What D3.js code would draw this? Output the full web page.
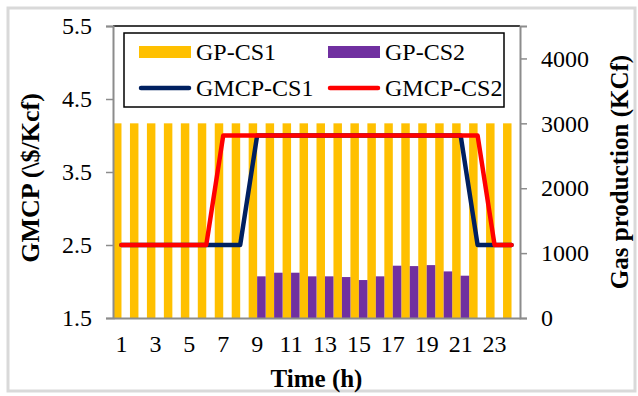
<!DOCTYPE html>
<html>
<head>
<meta charset="utf-8">
<script src="https://cdn.jsdelivr.net/npm/d3@7"></script>
<style>
  body { margin: 0; background: #fff; }
  text { font-family: "Liberation Serif", "Times New Roman", serif; fill: #000; }
</style>
</head>
<body>
<div id="chart"></div>
<script>
// hours and series
const hours = d3.range(1, 25);
const gpCs1 = [3000, 3000, 3000, 3000, 3000, 3000, 3000, 3000, 3000, 3000, 3000, 3000,
               3000, 3000, 3000, 3000, 3000, 3000, 3000, 3000, 3000, 3000, 3000, 3000];
const gpCs2 = [0, 0, 0, 0, 0, 0, 0, 0, 642, 698, 698, 642,
               642, 631, 585, 642, 806, 800, 815, 718, 652, 0, 0, 0];
const gmcpCs1 = [2.5, 2.5, 2.5, 2.5, 2.5, 2.5, 2.5, 2.5, 4.0, 4.0, 4.0, 4.0,
                 4.0, 4.0, 4.0, 4.0, 4.0, 4.0, 4.0, 4.0, 4.0, 2.5, 2.5, 2.5];
const gmcpCs2 = [2.5, 2.5, 2.5, 2.5, 2.5, 2.5, 4.0, 4.0, 4.0, 4.0, 4.0, 4.0,
                 4.0, 4.0, 4.0, 4.0, 4.0, 4.0, 4.0, 4.0, 4.0, 4.0, 2.5, 2.5];
const leftTicks = [1.5, 2.5, 3.5, 4.5, 5.5];
const rightTicks = [0, 1000, 2000, 3000, 4000];
const xTickLabels = [1, 3, 5, 7, 9, 11, 13, 15, 17, 19, 21, 23];

const width = 638, height = 396;
const plotLeft = 113, plotRight = 520, plotTop = 26, plotBottom = 318;
const axisColor = '#8c8c8c';
const fontSize = 24;
const titleSize = 25;

var svg = d3.select('#chart')
    .append('svg')
    .attr('width', width)
    .attr('height', height);

svg.append('rect')
    .attr('x', 8).attr('y', 8)
    .attr('width', 627).attr('height', 383)
    .style('fill', '#fff')
    .style('stroke', '#d9d9d9')
    .style('stroke-width', 3);

var x = d3.scaleBand()
    .domain(hours)
    .range([plotLeft, plotRight])
    .padding(0);
var half = x.bandwidth() / 2;
var yLeft = d3.scaleLinear().domain([1.5, 5.5]).range([plotBottom, plotTop]);
var yRight = d3.scaleLinear().domain([0, 4500]).range([plotBottom, plotTop]);

// bars
var bars = svg.append('g');
bars.selectAll('.cs1')
    .data(hours)
    .enter()
    .append('rect')
    .attr('x', h => x(h))
    .attr('width', half)
    .attr('y', (h, i) => yRight(gpCs1[i]))
    .attr('height', (h, i) => plotBottom - yRight(gpCs1[i]))
    .style('fill', '#ffc000');
bars.selectAll('.cs2')
    .data(hours.filter((h, i) => gpCs2[i] > 0))
    .enter()
    .append('rect')
    .attr('x', h => x(h) + half)
    .attr('width', half)
    .attr('y', h => yRight(gpCs2[h - 1]))
    .attr('height', h => plotBottom - yRight(gpCs2[h - 1]))
    .style('fill', '#7030a0');

// plot area top border
svg.append('line')
    .attr('x1', plotLeft).attr('x2', plotRight)
    .attr('y1', plotTop).attr('y2', plotTop)
    .style('stroke', '#000')
    .style('stroke-width', 1.5);

// lines
let line = d3.line()
    .x((d, i) => x(hours[i]) + half)
    .y(d => yLeft(d));
svg.append('path')
    .attr('d', line(gmcpCs1))
    .style('fill', 'none')
    .style('stroke', '#002060')
    .style('stroke-width', 4.5)
    .style('stroke-linecap', 'round')
    .style('stroke-linejoin', 'round');
svg.append('path')
    .attr('d', line(gmcpCs2))
    .style('fill', 'none')
    .style('stroke', '#ff0000')
    .style('stroke-width', 4.5)
    .style('stroke-linecap', 'round')
    .style('stroke-linejoin', 'round');

// axes
var leftAxis = svg.append('g')
    .attr('transform', `translate(${plotLeft},0)`)
    .call(d3.axisLeft(yLeft).tickValues(leftTicks).tickSize(7).tickPadding(14).tickFormat(d3.format('.1f')));
var rightAxis = svg.append('g')
    .attr('transform', `translate(${plotRight},0)`)
    .call(d3.axisRight(yRight).tickValues(rightTicks).tickSize(7).tickPadding(14).tickFormat(d => d));
var bottomAxis = svg.append('g')
    .attr('transform', `translate(0,${plotBottom})`)
    .call(d3.axisBottom(x).tickValues(xTickLabels).tickSize(0).tickPadding(17));
[leftAxis, rightAxis, bottomAxis].forEach(a => {
    a.select('.domain').style('stroke', axisColor).style('stroke-width', 2);
    a.selectAll('.tick line').style('stroke', axisColor).style('stroke-width', 1.5);
    a.selectAll('text')
        .style('font-family', '"Liberation Serif", serif')
        .style('font-size', fontSize + 'px')
        .style('fill', '#000');
});

// axis titles
svg.append('text')
    .attr('transform', `translate(39,178) rotate(-90)`)
    .attr('text-anchor', 'middle')
    .style('font-size', '26px')
    .style('font-weight', 'bold')
    .text('GMCP (\\$/Kcf)');
svg.append('text')
    .attr('transform', `translate(628,${(plotTop + plotBottom) / 2}) rotate(-90)`)
    .attr('text-anchor', 'middle')
    .style('font-size', titleSize + 'px')
    .style('font-weight', 'bold')
    .text('Gas production (KCf)');
svg.append('text')
    .attr('x', (plotLeft + plotRight) / 2)
    .attr('y', 387)
    .attr('text-anchor', 'middle')
    .style('font-size', titleSize + 'px')
    .style('font-weight', 'bold')
    .text('Time (h)');

// legend
var legend = svg.append('g');
legend.append('rect')
    .attr('x', 124).attr('y', 33)
    .attr('width', 380).attr('height', 74)
    .style('fill', '#fff')
    .style('stroke', '#000')
    .style('stroke-width', 1.5);
var legendItems = [
    { name: 'GP-CS1', type: 'bar', color: '#ffc000', lx: 139, ly: 52 },
    { name: 'GP-CS2', type: 'bar', color: '#7030a0', lx: 328, ly: 52 },
    { name: 'GMCP-CS1', type: 'line', color: '#002060', lx: 139, ly: 88 },
    { name: 'GMCP-CS2', type: 'line', color: '#ff0000', lx: 328, ly: 88 }
];
legendItems.forEach(d => {
    if (d.type === 'bar') {
        legend.append('rect')
            .attr('x', d.lx).attr('y', d.ly - 6)
            .attr('width', 52).attr('height', 12)
            .style('fill', d.color);
    } else {
        legend.append('line')
            .attr('x1', d.lx + 2).attr('x2', d.lx + 50)
            .attr('y1', d.ly).attr('y2', d.ly)
            .style('stroke', d.color)
            .style('stroke-width', 4.5)
            .style('stroke-linecap', 'round');
    }
    legend.append('text')
        .attr('x', d.lx + 57)
        .attr('y', d.ly + 8)
        .style('font-size', fontSize + 'px')
        .text(d.name);
});
</script>
</body>
</html>
